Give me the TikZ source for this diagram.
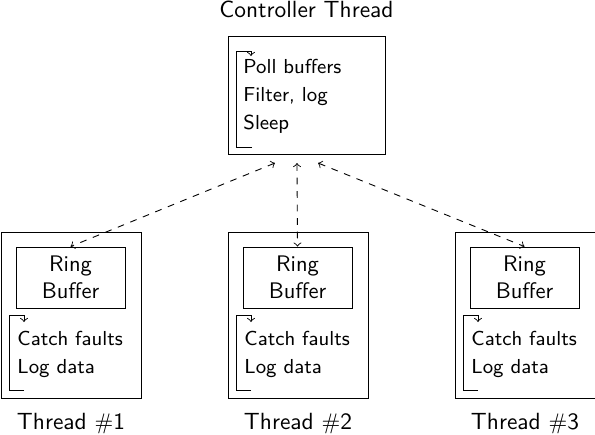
\documentclass[tikz,border=0pt]{standalone}
\usetikzlibrary{positioning}
\begin{document}
\begin{tikzpicture}[
    x=0.4444pt, y=-0.4444pt,
    font=\sffamily,
    ctrlbox/.style={
      draw,
      minimum width=69.8pt,
      minimum height=52.4pt,
      inner sep=0pt
    },
    thread/.style={
      draw,
      minimum width=62.2pt,
      minimum height=73.8pt,
      inner sep=0pt
    },
    ring/.style={
      draw,
      align=center,
      minimum width=48.4pt,
      minimum height=27.1pt,
      inner sep=0pt
    },
    steps/.style={
      align=left,
      anchor=base west,
      font=\sffamily\fontsize{9}{12.4}\selectfont,
      inner sep=0pt
    },
    caption/.style={
      font=\sffamily\fontsize{10.4}{12.5}\selectfont
    },
    loopback/.style={->},
    link/.style={<->, dashed}
  ]
  \useasboundingbox (0,0) rectangle (595,434);

  % controller
  \node[ctrlbox] (C) at (306.5,95) {};
  \node[caption, above=4.2pt of C] (title) {Controller Thread};
  \node[steps] (Csteps) at (243,129) {Poll buffers\\Filter, log\\Sleep};
  \draw[loopback] (252,147) -- (236,147) -- (236,51) -- (251,51) -- (251,56);

  \begin{scope}
    \node[thread] (Th1) at (71,315) {};
    \node[ring] (R1) at (70.5,277.5) {Ring\\Buffer};
    \node[steps] (S1) at (17,373) {Catch faults\\Log data};
    \draw[loopback] (24,390) -- (9,390) -- (9,315) -- (24,315) -- (24,322);
    \node[caption, below=3pt of Th1] (L1) {Thread $\#$1};
  \end{scope}

  \begin{scope}[shift={(227,0)}]
    \node[thread] (Th2) at (71,315) {};
    \node[ring] (R2) at (70.5,277.5) {Ring\\Buffer};
    \node[steps] (S2) at (17,373) {Catch faults\\Log data};
    \draw[loopback] (24,390) -- (9,390) -- (9,315) -- (24,315) -- (24,322);
    \node[caption, below=3pt of Th2] (L2) {Thread $\#$2};
  \end{scope}

  \begin{scope}[shift={(454,0)}]
    \node[thread] (Th3) at (71,315) {};
    \node[ring] (R3) at (70.5,277.5) {Ring\\Buffer};
    \node[steps] (S3) at (17,373) {Catch faults\\Log data};
    \draw[loopback] (24,390) -- (9,390) -- (9,315) -- (24,315) -- (24,322);
    \node[caption, below=3pt of Th3] (L3) {Thread $\#$3};
  \end{scope}

  % buffer links
  \coordinate (p1) at (275,163);
  \coordinate (p2) at (297,163);
  \coordinate (p3) at (318,163);
  \draw[link] (p1) -- (R1.north);
  \draw[link] (p2) -- (R2.north);
  \draw[link] (p3) -- (R3.north);
\end{tikzpicture}
\end{document}
